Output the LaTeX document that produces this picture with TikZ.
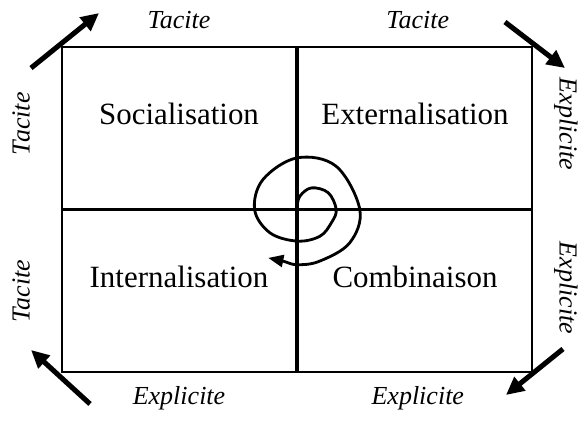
\documentclass[tikz,border=0pt]{standalone}
\usepackage{fontspec}
\setmainfont{Liberation Serif}
\usetikzlibrary{arrows.meta}

\tikzset{
    cell/.style={rectangle, draw, line width=1.4pt, minimum width=5.85cm, minimum height=4.0375cm, inner sep=0},
    phase/.style={font=\fontsize{22}{26}\selectfont, anchor=base, inner sep=0},
    kind/.style={font=\fontsize{18.5}{22}\selectfont\itshape},
    bigarrow/.style={line width=3.6pt, -{Triangle[length=0.45cm, width=0.42cm]}},
    spiral/.style={line width=2pt, line join=round, -{Triangle[length=0.38cm, width=0.3cm]}}
}

\begin{document}
\begin{tikzpicture}
    \useasboundingbox (-7.425,5.2375) rectangle (7.075,-5.2875);
    \draw
    (0,0)node[cell, anchor=south east](soc){}
    (0,0)node[cell, anchor=south west](ext){}
    (0,0)node[cell, anchor=north east](int){}
    (0,0)node[cell, anchor=north west](com){}
    ([yshift=-1.95cm]soc.north)node[phase](socl){Socialisation}
    ([yshift=-1.95cm]ext.north)node[phase](extl){Externalisation}
    ([yshift=-1.95cm]int.north)node[phase](intl){Internalisation}
    ([yshift=-1.95cm]com.north)node[phase](coml){Combinaison}
    ([yshift=0.65cm]soc.north)node[kind](tsoc){Tacite}
    ([shift={(0.07,0.65)}]ext.north)node[kind](text){Tacite}
    ([shift={(-1,0.1)}]soc.west)node[kind, rotate=90](lsoc){Tacite}
    ([xshift=-1cm]int.west)node[kind, rotate=90](lint){Tacite}
    ([shift={(0.82,0.09)}]ext.east)node[kind, rotate=-90](rext){Explicite}
    ([shift={(0.82,0.08)}]com.east)node[kind, rotate=-90](rcom){Explicite}
    ([yshift=-0.62cm]int.south)node[kind](bint){Explicite}
    ([shift={(0.07,-0.62)}]com.south)node[kind](bcom){Explicite}
    ;
    % corner arrows
    \coordinate (a1) at ([shift={(-0.75,-0.55)}]soc.north west);
    \coordinate (a2) at ([shift={(0.95,0.825)}]soc.north west);
    \coordinate (b1) at ([shift={(-0.7,0.6)}]ext.north east);
    \coordinate (b2) at ([shift={(0.8,-0.55)}]ext.north east);
    \coordinate (c1) at ([shift={(0.75,0.6)}]com.south east);
    \coordinate (c2) at ([shift={(-0.675,-0.55)}]com.south east);
    \coordinate (d1) at ([shift={(0.725,-0.775)}]int.south west);
    \coordinate (d2) at ([shift={(-0.75,0.575)}]int.south west);
    \draw[bigarrow] (a1) -- (a2);
    \draw[bigarrow] (b1) -- (b2);
    \draw[bigarrow] (c1) -- (c2);
    \draw[bigarrow] (d1) -- (d2);
    % spiral
    \begin{scope}[shift={(soc.south east)}]
    \draw[spiral] plot[smooth, tension=0.6] coordinates {(0,0.05) (0.07,0.33) (0.36,0.54) (0.78,0.42) (0.98,0) (0.86,-0.33) (0.57,-0.67) (0,-0.79) (-0.68,-0.58) (-1.06,0) (-0.85,0.75) (0,1.29) (0.98,1.08) (1.57,0) (1.32,-0.83) (0.57,-1.29) (0,-1.38) (-0.35,-1.29) (-0.72,-1.21)};
    \end{scope}
\end{tikzpicture}
\end{document}
